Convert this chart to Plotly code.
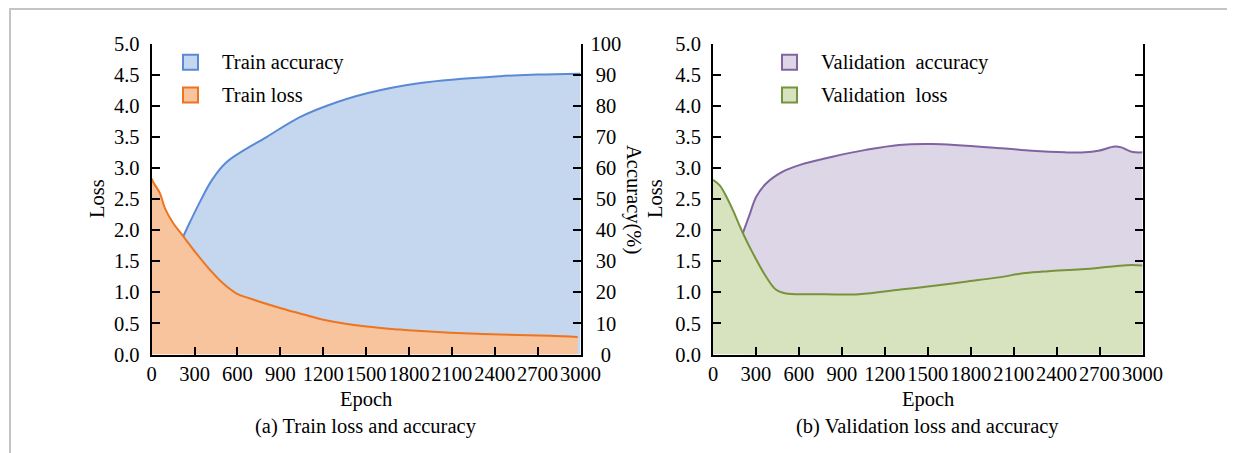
import plotly.graph_objects as go

# ---------------- data ----------------
train_loss_epoch = [0, 11, 58, 93, 151, 221, 314, 408, 501, 594, 688, 910, 1085, 1201, 1505, 1738, 1855, 2088, 2437, 2787, 2980]
train_loss = [2.83, 2.77, 2.59, 2.35, 2.11, 1.90, 1.62, 1.36, 1.14, 0.98, 0.90, 0.74, 0.63, 0.56, 0.45, 0.40, 0.38, 0.35, 0.32, 0.30, 0.28]

train_acc_epoch = [221, 268, 341, 420, 525, 806, 1040, 1226, 1506, 1880, 2440, 2700, 3000]
train_acc = [38.0, 42.6, 49.4, 56.0, 61.9, 70.0, 76.4, 80.0, 84.0, 87.3, 89.5, 90.0, 90.3]

val_loss_epoch = [0, 47, 93, 139, 209, 278, 371, 441, 510, 719, 1020, 1299, 1531, 1763, 1995, 2181, 2343, 2575, 2807, 2923, 3000]
val_loss = [2.81, 2.72, 2.54, 2.32, 1.95, 1.63, 1.25, 1.04, 0.98, 0.97, 0.97, 1.04, 1.10, 1.17, 1.24, 1.31, 1.34, 1.37, 1.42, 1.44, 1.43]

val_acc_epoch = [209, 255, 302, 371, 487, 603, 835, 1067, 1299, 1530, 2017, 2227, 2459, 2598, 2691, 2807, 2853, 2923, 3000]
val_acc = [39.1, 44.9, 50.7, 55.0, 58.8, 60.9, 63.6, 65.8, 67.4, 67.7, 66.3, 65.5, 65.0, 65.0, 65.5, 66.9, 66.6, 65.2, 65.0]

epoch_ticks = list(range(0, 3001, 300))
loss_ticks = [i * 0.5 for i in range(11)]
acc_ticks = list(range(0, 101, 10))
# centred labels on right accuracy axis (left-aligned by plotly -> pad)
acc_ticktext = []
for v in acc_ticks:
    s = str(v)
    if len(s) == 1:
        s = "\u2002" + s
    elif len(s) == 2:
        s = "\u2008" + s
    acc_ticktext.append(s)

legend_left = ["Train accuracy", "Train loss"]
legend_right = ["Validation\u00a0\u00a0accuracy", "Validation\u00a0\u00a0loss"]

# ---------------- style ----------------
W, H = 1235, 453
OFF = 8  # page body margin
FONT = "Liberation Serif"
FS = 20.5
BLUE_L, BLUE_F = "#5A8AD6", "#C5D7EE"
ORNG_L, ORNG_F = "#ED7420", "#F8C49E"
PURP_L, PURP_F = "#8064A2", "#DDD6E6"
GREN_L, GREN_F = "#77933C", "#D7E3BF"


def px(x):
    return (x - OFF) / W


def py(y):
    return 1 - (y - OFF) / H


dom_left = [px(151.7), px(580.5)]
dom_right = [px(713.0), px(1142.5)]
dom_y = [py(354.5), py(43.5)]

fig = go.Figure()

line_kw = dict(width=2, shape="spline", smoothing=1.0)

# Panel (a): accuracy on y (right side, main), loss on y2 overlaying (drawn on top)
fig.add_trace(go.Scatter(x=train_acc_epoch, y=train_acc, xaxis="x", yaxis="y",
                         mode="lines", line=dict(color=BLUE_L, **line_kw),
                         fill="tozeroy", fillcolor=BLUE_F, showlegend=False, name="Train accuracy"))
fig.add_trace(go.Scatter(x=train_loss_epoch, y=train_loss, xaxis="x", yaxis="y2",
                         mode="lines", line=dict(color=ORNG_L, **line_kw),
                         fill="tozeroy", fillcolor=ORNG_F, showlegend=False, name="Train loss"))
# Panel (b)
fig.add_trace(go.Scatter(x=val_acc_epoch, y=val_acc, xaxis="x2", yaxis="y3",
                         mode="lines", line=dict(color=PURP_L, **line_kw),
                         fill="tozeroy", fillcolor=PURP_F, showlegend=False, name="Validation accuracy"))
fig.add_trace(go.Scatter(x=val_loss_epoch, y=val_loss, xaxis="x2", yaxis="y4",
                         mode="lines", line=dict(color=GREN_L, **line_kw),
                         fill="tozeroy", fillcolor=GREN_F, showlegend=False, name="Validation loss"))

axis_common = dict(showgrid=False, zeroline=False, showline=True, linecolor="black", linewidth=2,
                   ticks="inside", ticklen=8, tickwidth=2, tickcolor="black", automargin=False,
                   tickfont=dict(family=FONT, size=FS, color="black"), fixedrange=True)

xcommon = dict(axis_common, range=[0, 3000], tickvals=epoch_ticks, tickangle=0,
               ticktext=[str(t) for t in epoch_ticks])

fig.update_layout(
    template="none",
    width=W, height=H, margin=dict(l=0, r=0, t=0, b=0, pad=0),
    paper_bgcolor="white", plot_bgcolor="rgba(0,0,0,0)",
    font=dict(family=FONT, size=FS, color="black"),
    showlegend=False,
    xaxis=dict(xcommon, domain=dom_left, anchor="y"),
    yaxis=dict(axis_common, domain=dom_y, range=[0, 100], side="right", anchor="x",
               tickvals=acc_ticks, ticktext=acc_ticktext, ticklabelstandoff=4),
    yaxis2=dict(axis_common, domain=dom_y, range=[0, 5], side="left", anchor="x", overlaying="y",
                tickvals=loss_ticks, ticktext=[f"{v:.1f}" for v in loss_ticks], ticklabelstandoff=6),
    xaxis2=dict(xcommon, domain=dom_right, anchor="y3"),
    yaxis3=dict(axis_common, domain=dom_y, range=[0, 100], side="right", anchor="x2",
                tickvals=acc_ticks, showticklabels=False),
    yaxis4=dict(axis_common, domain=dom_y, range=[0, 5], side="left", anchor="x2", overlaying="y3",
                tickvals=loss_ticks, ticktext=[f"{v:.1f}" for v in loss_ticks], ticklabelstandoff=6),
)

# outer frame
fig.add_shape(type="rect", xref="paper", yref="paper", x0=px(10), x1=1.05, y0=-0.05, y1=py(9),
              line=dict(color="#C4C4C4", width=2), fillcolor="rgba(0,0,0,0)", layer="below")

# legend squares + text
leg_rows = [62.3, 95.0]
for (x0, texts, fills, lines, tx) in [
    (183, legend_left, [BLUE_F, ORNG_F], [BLUE_L, ORNG_L], 220),
    (782, legend_right, [PURP_F, GREN_F], [PURP_L, GREN_L], 819),
]:
    for yc, t, fc, lc in zip(leg_rows, texts, fills, lines):
        fig.add_shape(type="rect", xref="paper", yref="paper",
                      x0=px(x0), x1=px(x0 + 15), y0=py(yc + 7.5), y1=py(yc - 7.5),
                      line=dict(color=lc, width=2), fillcolor=fc)
        fig.add_annotation(x=px(tx), y=py(yc), xref="paper", yref="paper", text=t,
                           showarrow=False, xanchor="left", yanchor="middle",
                           font=dict(family=FONT, size=FS, color="black"))

# axis titles and captions
titles = [
    ("Loss", 97, 199, -90),
    ("Accuracy(%)", 633, 199, 90),
    ("Loss", 655, 199, -90),
    ("Epoch", 366, 399, 0),
    ("Epoch", 927.5, 399, 0),
    ("(a) Train loss and accuracy", 366, 426.5, 0),
    ("(b) Validation loss and accuracy", 927.5, 426.5, 0),
]
for t, x, y, ang in titles:
    fig.add_annotation(x=px(x), y=py(y), xref="paper", yref="paper", text=t, showarrow=False,
                       xanchor="center", yanchor="middle", textangle=ang,
                       font=dict(family=FONT, size=FS, color="black"))

fig.write_html("out.html")
